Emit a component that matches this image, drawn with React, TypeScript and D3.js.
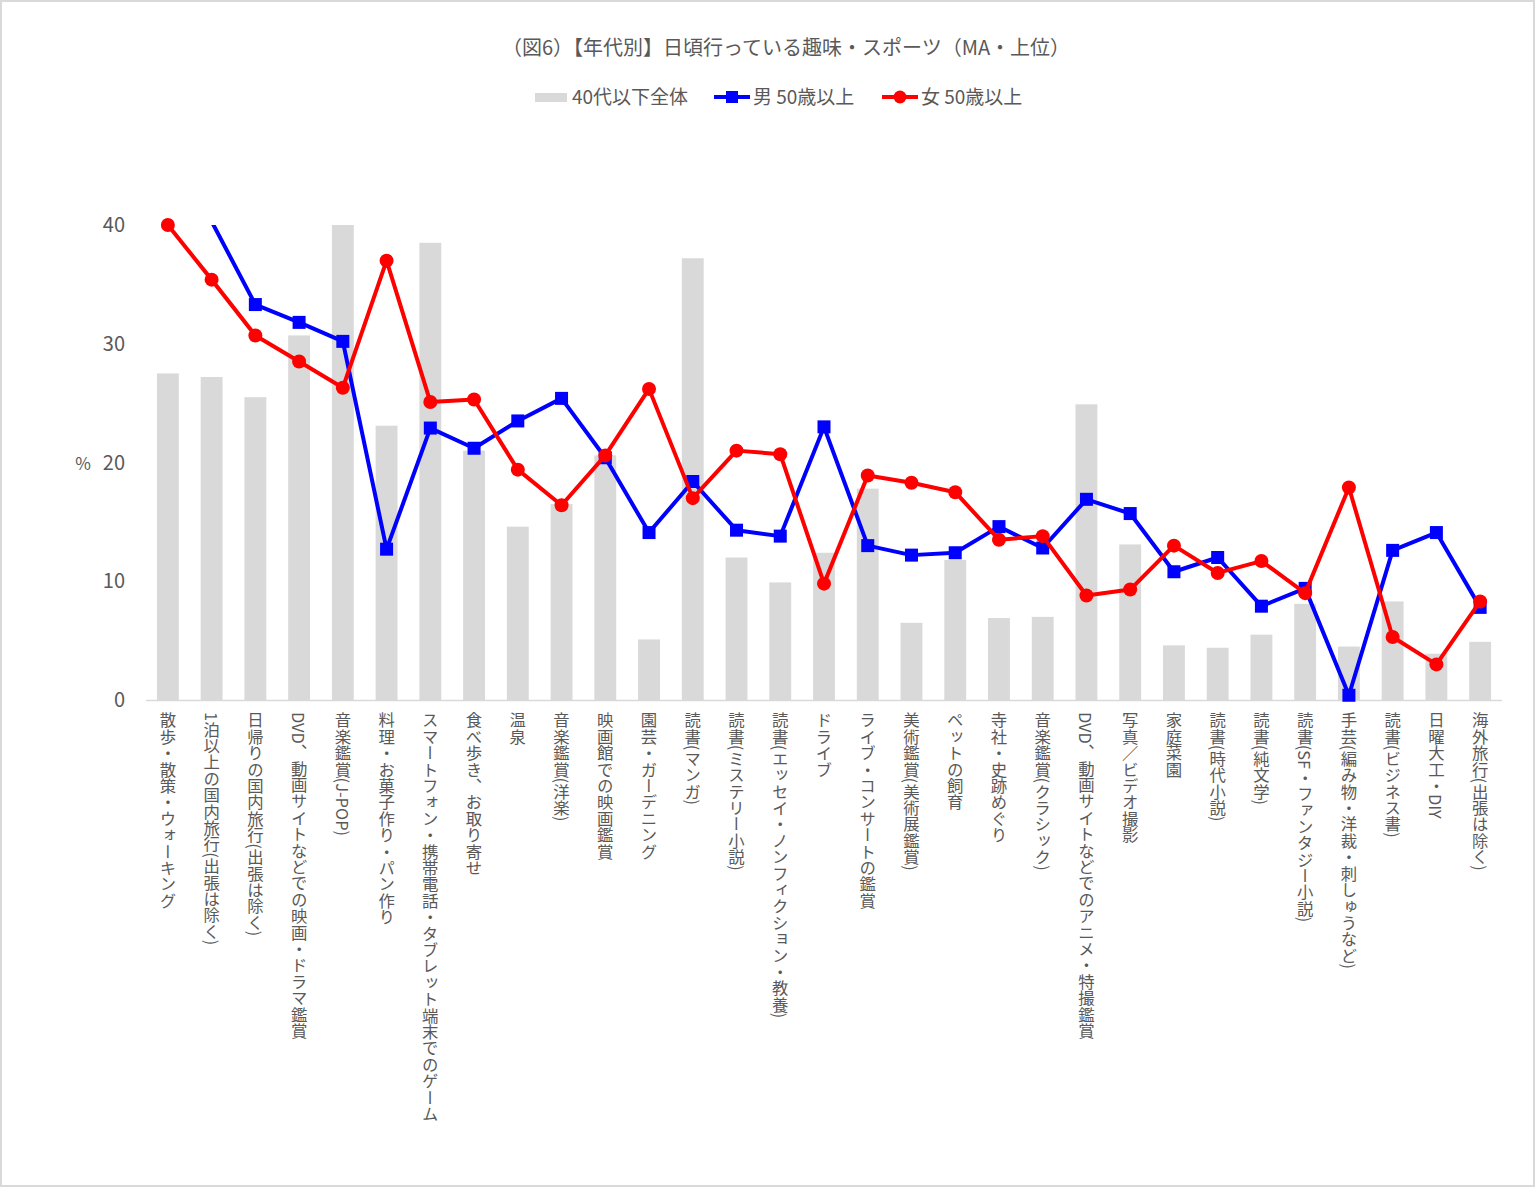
import * as React from "react";
import * as d3 from "d3";

// 項目（横軸）
const categories = [
  "散歩・散策・ウォーキング",
  "1泊以上の国内旅行(出張は除く)",
  "日帰りの国内旅行(出張は除く)",
  "DVD、動画サイトなどでの映画・ドラマ鑑賞",
  "音楽鑑賞(J-POP)",
  "料理・お菓子作り・パン作り",
  "スマートフォン・携帯電話・タブレット端末でのゲーム",
  "食べ歩き、お取り寄せ",
  "温泉",
  "音楽鑑賞(洋楽)",
  "映画館での映画鑑賞",
  "園芸・ガーデニング",
  "読書(マンガ)",
  "読書(ミステリー小説)",
  "読書(エッセイ・ノンフィクション・教養)",
  "ドライブ",
  "ライブ・コンサートの鑑賞",
  "美術鑑賞(美術展鑑賞)",
  "ペットの飼育",
  "寺社・史跡めぐり",
  "音楽鑑賞(クラシック)",
  "DVD、動画サイトなどでのアニメ・特撮鑑賞",
  "写真／ビデオ撮影",
  "家庭菜園",
  "読書(時代小説)",
  "読書(純文学)",
  "読書(SF・ファンタジー小説)",
  "手芸(編み物・洋裁・刺しゅうなど)",
  "読書(ビジネス書)",
  "日曜大工・DIY",
  "海外旅行(出張は除く)",
];

// 40代以下全体（棒）
const under40 = [
  27.5, 27.2, 25.5, 30.7, 40.0, 23.1, 38.5, 21.0, 14.6, 16.5, 20.6, 5.1, 37.2,
  12.0, 9.9, 12.4, 17.8, 6.5, 11.8, 6.9, 7.0, 24.9, 13.1, 4.6, 4.4, 5.5, 8.1,
  4.5, 8.3, 3.9, 4.9,
];

// 男 50歳以上
const male50 = [
  46.0, 40.3, 33.3, 31.8, 30.2, 12.7, 22.9, 21.2, 23.5, 25.4, 20.4, 14.1, 18.4,
  14.3, 13.8, 23.0, 13.0, 12.2, 12.4, 14.6, 12.8, 16.9, 15.7, 10.8, 12.0, 7.9,
  9.4, 0.4, 12.6, 14.1, 7.8,
];

// 女 50歳以上
const female50 = [
  40.0, 35.4, 30.7, 28.5, 26.3, 37.0, 25.1, 25.3, 19.4, 16.4, 20.6, 26.2, 17.0,
  21.0, 20.7, 9.8, 18.9, 18.3, 17.5, 13.5, 13.8, 8.8, 9.3, 13.0, 10.7, 11.7,
  9.0, 17.9, 5.3, 3.0, 8.3,
];

const yTicks = [0, 10, 20, 30, 40];

const W = 1536;
const H = 1188;
const FONT = "'Noto Sans CJK JP', 'Noto Sans', sans-serif";
const TEXT = "#595959";
const BAR = "#d9d9d9";
const BLUE = "#0000ff";
const RED = "#ff0000";

const App = () => {
  const x = d3
    .scaleBand()
    .domain(categories)
    .range([146, 1502])
    .paddingInner(0.5)
    .paddingOuter(0.25);
  const y = d3.scaleLinear().domain([0, 40]).range([700, 225]);
  const cx = (i: number) => x(categories[i]) + x.bandwidth() / 2;

  const line = d3
    .line<number>()
    .x((d, i) => cx(i))
    .y(d => y(d));

  const maxY = y.domain()[1];

  return (
    <div style={{ position: "absolute", left: 0, top: 0 }}>
      <svg width={W} height={H} style={{ display: "block", fontFamily: FONT }}>
        <defs>
          <clipPath id="plot">
            <rect x={0} y={y(40)} width={W} height={H - y(40)} />
          </clipPath>
        </defs>
        <rect x={0} y={0} width={W} height={H} fill="#fff" />
        <rect
          x={1}
          y={1}
          width={W - 3}
          height={H - 3}
          fill="none"
          stroke="#d9d9d9"
          strokeWidth={2}
        />

        {/* title */}
        <text x={786} y={55} textAnchor="middle" fontSize={20} fill={TEXT}>
          （図6）【年代別】日頃行っている趣味・スポーツ（MA・上位）
        </text>

        {/* legend */}
        <g fontSize={19} fill={TEXT}>
          <rect x={535} y={93} width={32} height={9} fill={BAR} />
          <text x={572} y={104}>40代以下全体</text>
          <line x1={714} x2={750} y1={97} y2={97} stroke={BLUE} strokeWidth={4} />
          <rect x={726} y={91} width={12} height={12} fill={BLUE} />
          <text x={753} y={104}>男 50歳以上</text>
          <line x1={882} x2={918} y1={97} y2={97} stroke={RED} strokeWidth={4} />
          <circle cx={900} cy={97} r={6.5} fill={RED} />
          <text x={921} y={104}>女 50歳以上</text>
        </g>

        {/* y axis labels */}
        <g fontSize={20} fill={TEXT} textAnchor="end">
          {yTicks.map(t => (
            <text key={t} x={125} y={y(t)} dy="0.36em">
              {t}
            </text>
          ))}
        </g>
        <text x={83} y={y(20)} dy="0.42em" fontSize={17} fill={TEXT} textAnchor="middle">
          %
        </text>

        {/* bars */}
        <g>
          {under40.map((v, i) => (
            <rect
              key={i}
              x={x(categories[i])}
              y={y(v)}
              width={x.bandwidth()}
              height={y(0) - y(v)}
              fill={BAR}
            />
          ))}
        </g>

        {/* x axis line */}
        <line x1={146} x2={1502} y1={y(0) + 0.5} y2={y(0) + 0.5} stroke={BAR} strokeWidth={1.5} />

        {/* x labels */}
        <g fontSize={16.4} fill={TEXT}>
          {categories.map((c, i) => (
            <text
              key={c}
              x={cx(i)}
              y={712}
              style={{ writingMode: "vertical-rl" }}
            >
              {c}
            </text>
          ))}
        </g>

        {/* 男 50歳以上 */}
        <path
          d={line(male50)}
          fill="none"
          stroke={BLUE}
          strokeWidth={4}
          strokeLinejoin="round"
          clipPath="url(#plot)"
        />
        {male50.map((v, i) =>
          v <= maxY ? (
            <rect key={i} x={cx(i) - 6.5} y={y(v) - 6.5} width={13} height={13} fill={BLUE} />
          ) : null
        )}

        {/* 女 50歳以上 */}
        <path
          d={line(female50)}
          fill="none"
          stroke={RED}
          strokeWidth={4}
          strokeLinejoin="round"
          clipPath="url(#plot)"
        />
        {female50.map((v, i) =>
          v <= maxY ? <circle key={i} cx={cx(i)} cy={y(v)} r={7} fill={RED} /> : null
        )}
      </svg>
    </div>
  );
};

export default App;
